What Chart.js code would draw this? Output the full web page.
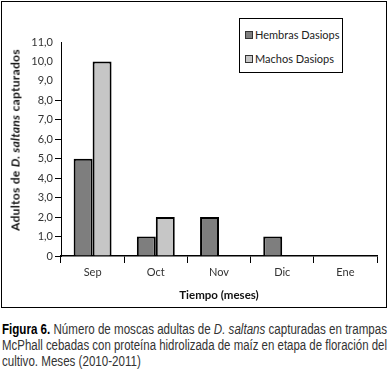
<!DOCTYPE html>
<html>
<head>
<meta charset="utf-8">
<script src="https://cdn.jsdelivr.net/npm/chart.js@4"></script>
<style>
  body { margin: 0; background: #fff; width: 389px; height: 371px; position: relative; overflow: hidden; }
  #frame { position: absolute; left: 1px; top: 1px; width: 384px; height: 305px; border: 1.5px solid #000; }
  #wrap { position: absolute; left: 0; top: 0; width: 389px; height: 310px; }
  #ytitle { position: absolute; left: 15px; top: 140px; transform: translate(-50%, -50%) rotate(-90deg);
    white-space: nowrap; font: bold 12px Lato, "Open Sans", sans-serif; letter-spacing: 0.3px; color: #111; }
  #xtitle { position: absolute; left: 219px; top: 294px; transform: translate(-50%, -50%);
    white-space: nowrap; font: bold 11.5px Lato, "Open Sans", sans-serif; color: #111; }
  #legend { position: absolute; left: 239px; top: 18px; width: 102px; height: 53px; border: 1.2px solid #000;
    background: #fff; font: 11px Lato, "Open Sans", sans-serif; color: #222; }
  #legend div { position: absolute; left: 5px; white-space: nowrap; }
  #legend span { display: inline-block; width: 6px; height: 6px; border: 1px solid #333; margin-right: 2px; vertical-align: 0px; }
  #caption { position: absolute; left: 2px; top: 321px; width: 385px;
    font: 14px "Liberation Sans", Arial, sans-serif; color: #333; line-height: 16px; }
  #caption .l { white-space: nowrap; transform-origin: 0 0; display: inline-block; }
  #caption b { color: #000; }
</style>
</head>
<body>
<div id="frame"></div>
<div id="wrap"><canvas id="myChart" width="389" height="310"></canvas></div>
<div id="ytitle">Adultos de <i>D. saltans</i> capturados</div>
<div id="xtitle">Tiempo (meses)</div>
<div id="legend"></div>
<div id="caption">
  <div><span class="l" data-fit="1"><b>Figura 6.</b> Número de moscas adultas de <i>D. saltans</i> capturadas en trampas</span></div>
  <div><span class="l" data-fit="1">McPhall cebadas con proteína hidrolizada de maíz en etapa de floración del</span></div>
  <div><span class="l" data-fit="0">cultivo. Meses (2010-2011)</span></div>
</div>
<script>
// months on the x axis
var months = ['Sep', 'Oct', 'Nov', 'Dic', 'Ene'];
// captured adults per month
var hembras = [5, 1, 2, 1, 0];
var machos = [10, 2, 0, 0, 0];
var seriesNames = ['Hembras Dasiops', 'Machos Dasiops'];
var seriesColors = ['#7e7e7e', '#c6c6c6'];
// y axis tick values
var yTicks = [0, 1, 2, 3, 4, 5, 6, 7, 8, 9, 10, 11];

function fmt(v) {
    return v === 0 ? '0' : v.toFixed(1).replace('.', ',');
}

var ctx = document.getElementById('myChart').getContext('2d');
var chart = new Chart(ctx, {
    type: 'bar',
    data: {
        labels: months,
        datasets: [{
            label: seriesNames[0],
            data: hembras,
            backgroundColor: seriesColors[0],
            borderColor: '#000',
            borderWidth: 2,
            borderSkipped: 'start',
            categoryPercentage: 0.6,
            barPercentage: 1.0
        }, {
            label: seriesNames[1],
            data: machos,
            backgroundColor: seriesColors[1],
            borderColor: '#000',
            borderWidth: 2,
            borderSkipped: 'start',
            categoryPercentage: 0.6,
            barPercentage: 1.0
        }]
    },
    options: {
        responsive: false,
        animation: false,
        layout: { padding: { left: 20, right: 12, top: 42, bottom: 24 } },
        plugins: { legend: { display: false }, tooltip: { enabled: false } },
        scales: {
            x: {
                grid: { drawOnChartArea: false, tickLength: 7, color: '#000', offset: true },
                border: { color: '#000', width: 1.5 },
                ticks: { color: '#333', font: { family: 'Lato', size: 11 }, padding: 3 },
                afterFit: function(scale) { scale.height = 30; }
            },
            y: {
                min: 0,
                max: 11,
                afterBuildTicks: function(scale) {
                    scale.ticks = yTicks.map(function(v) { return { value: v }; });
                },
                grid: {
                    drawOnChartArea: false,
                    tickLength: 6,
                    color: function(c) { return c.tick && c.tick.value > 8 ? 'rgba(0,0,0,0)' : '#000'; }
                },
                border: { color: '#000', width: 1 },
                ticks: {
                    color: '#333',
                    font: { family: 'Lato', size: 11 },
                    padding: 2,
                    callback: function(v) { return fmt(v); }
                },
                afterFit: function(scale) { scale.width = 41; }
            }
        }
    }
});

// legend box built from the dataset names
var legend = document.getElementById('legend');
seriesNames.forEach(function(name, i) {
    var row = document.createElement('div');
    row.style.top = (i === 0 ? 9 : 33) + 'px';
    row.innerHTML = '<span style="background:' + seriesColors[i] + '"></span>' + name;
    legend.appendChild(row);
});

// squeeze caption lines to a narrow look, full lines fill the width
var lines = document.querySelectorAll('#caption .l');
var k = 385 / lines[0].getBoundingClientRect().width;
lines.forEach(function(el) {
    var s = el.dataset.fit === '1' ? 385 / el.getBoundingClientRect().width : k;
    el.style.transform = 'scaleX(' + s + ')';
});
</script>
</body>
</html>
